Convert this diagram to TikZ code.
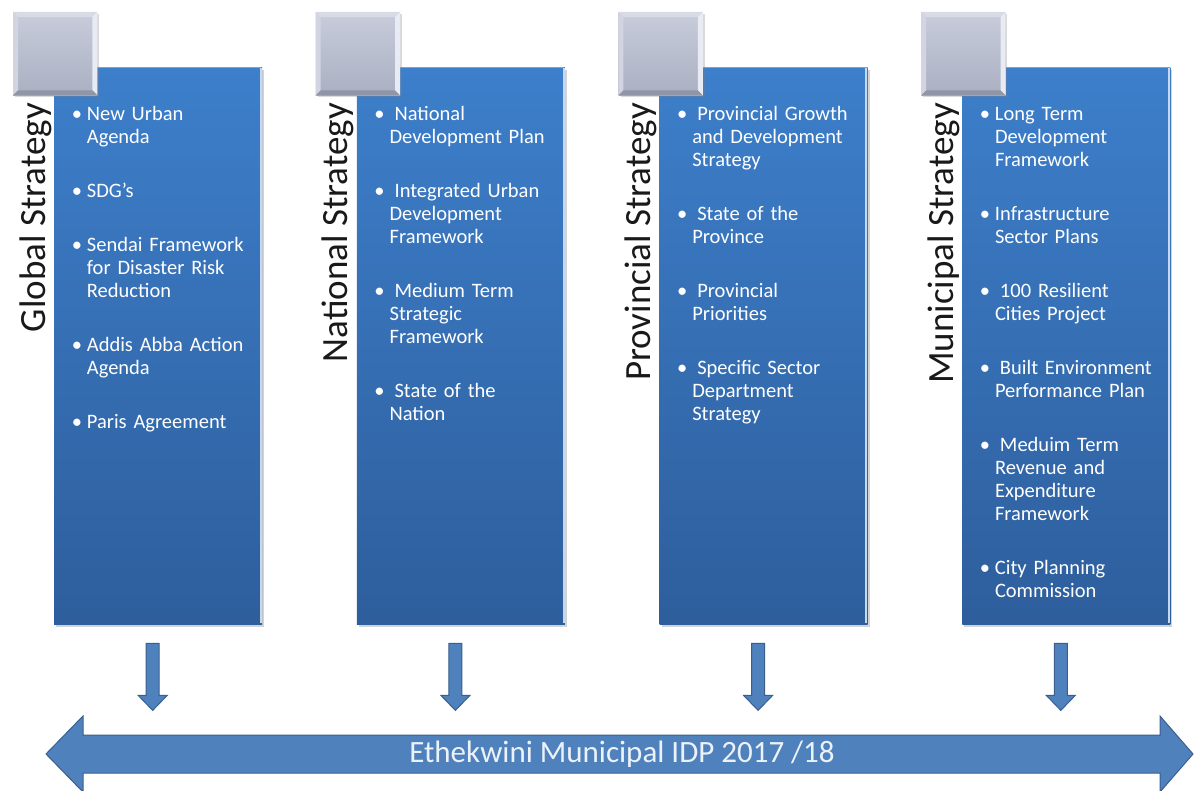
\documentclass[tikz,border=0pt]{standalone}
\usepackage{fontspec}
\setmainfont{Carlito}
\usetikzlibrary{calc,shadows}

\definecolor{boxtop}{RGB}{61,127,203}
\definecolor{boxbot}{RGB}{46,94,156}
\definecolor{sqtop}{RGB}{200,204,219}
\definecolor{sqbot}{RGB}{170,176,194}
\definecolor{bevlight}{RGB}{216,219,229}
\definecolor{bevwhite}{RGB}{232,235,243}
\definecolor{bevdark}{RGB}{145,150,166}
\definecolor{arrfill}{RGB}{79,129,189}
\definecolor{arredge}{RGB}{58,95,142}
\definecolor{idptext}{RGB}{236,242,250}

\tikzset{
  colbox/.style={draw=none, top color=boxtop, bottom color=boxbot,
    minimum width=208pt, minimum height=557pt, anchor=north west, inner sep=0pt,
    drop shadow={shadow xshift=2pt, shadow yshift=-3pt, opacity=0.35}},
  tile/.style={draw=none, top color=sqtop, bottom color=sqbot,
    minimum width=84pt, minimum height=83pt, anchor=north west, inner sep=0pt,
    drop shadow={shadow xshift=2pt, shadow yshift=-2pt, opacity=0.3}},
  sidelabel/.style={rotate=90, anchor=base east, inner sep=0pt,
    font=\fontsize{37pt}{40pt}\selectfont, text=black!90},
  itemtxt/.style={anchor=north west, inner sep=0pt, text width=200pt, align=left,
    font=\fontsize{20.5pt}{23pt}\selectfont, text=white},
  blockarrow/.style={fill=arrfill, draw=arredge, line width=1pt, line join=miter},
}

% bullet items with a hanging indent; the optional argument is a lead gap
\newcommand\bulletbox{\makebox[20pt][l]{\hspace{10pt}\makebox[0pt][c]{\textbullet}}}
\newcommand\firstitem[2][0pt]{\hangindent=20pt\hangafter=1\noindent
  \rule{0pt}{17pt}\bulletbox\hspace{#1}#2\par}
\newcommand\bitem[2][0pt]{\vspace{31pt}\hangindent=20pt\hangafter=1\noindent
  \bulletbox\hspace{#1}#2\par}

\begin{document}
\begin{tikzpicture}[x=1pt,y=-1pt]
\useasboundingbox (0,0) rectangle (1194,791);

% columns: blue panels, bevelled grey tiles and rotated titles
\foreach \i/\t in {0/Global Strategy,1/National Strategy,2/Provincial Strategy,3/Municipal Strategy}{
  \pgfmathsetmacro{\bx}{54+302.7*\i}
  \node[colbox] (box\i) at (\bx,67) {};
  \draw[white!70!boxtop, line width=2pt] ($(box\i.north east)+(-1.5,1)$) -- ($(box\i.south east)+(-1.5,-1)$);
  \draw[white!30!boxtop, line width=0.8pt] ($(box\i.north west)+(1,0.6)$) -- ($(box\i.north east)+(-1,0.6)$);
  \node[tile] (sq\i) at (\bx-41,12) {};
  \fill[bevlight] (sq\i.north west) -- (sq\i.north east) -- ++(-5,5) -- ($(sq\i.north west)+(5,5)$) -- cycle;
  \fill[bevlight!60!sqtop] (sq\i.north west) -- ($(sq\i.north west)+(5,5)$) -- ($(sq\i.south west)+(5,-5)$) -- (sq\i.south west) -- cycle;
  \fill[bevwhite] (sq\i.north east) -- (sq\i.south east) -- ++(-5,-5) -- ($(sq\i.north east)+(-5,5)$) -- cycle;
  \fill[bevdark] (sq\i.south west) -- ($(sq\i.south west)+(5,-5)$) -- ($(sq\i.south east)+(-5,-5)$) -- (sq\i.south east) -- cycle;
  \node[sidelabel] (lab\i) at (\bx-9,103) {\t};
}

% bullet lists
\node[itemtxt] (list0) at ($(box0.north west)+(12.7,36.5)$) {%
  \firstitem{New Urban\newline Agenda}
  \bitem{SDG’s}
  \bitem{Sendai Framework\newline for Disaster Risk\newline Reduction}
  \bitem{Addis Abba Action\newline Agenda}
  \bitem{Paris Agreement}};

\node[itemtxt] (list1) at ($(box1.north west)+(12.7,36.5)$) {%
  \firstitem[5pt]{National\newline Development Plan}
  \bitem[5pt]{Integrated Urban\newline Development\newline Framework}
  \bitem[5pt]{Medium Term\newline Strategic\newline Framework}
  \bitem[5pt]{State of the\newline Nation}};

\node[itemtxt] (list2) at ($(box2.north west)+(12.7,36.5)$) {%
  \firstitem[5pt]{Provincial Growth\newline and Development\newline Strategy}
  \bitem[5pt]{State of the\newline Province}
  \bitem[5pt]{Provincial\newline Priorities}
  \bitem[5pt]{Specific Sector\newline Department\newline Strategy}};

\node[itemtxt] (list3) at ($(box3.north west)+(12.7,36.5)$) {%
  \firstitem{Long Term\newline Development\newline Framework}
  \bitem{Infrastructure\newline Sector Plans}
  \bitem[5pt]{100 Resilient\newline Cities Project}
  \bitem[5pt]{Built Environment\newline Performance Plan}
  \bitem[5pt]{Meduim Term\newline Revenue and\newline Expenditure\newline Framework}
  \bitem{City Planning\newline Commission}};

% wide two-headed arrow carrying the IDP title
\coordinate (ltip) at (46,754);
\coordinate (rtip) at (1193,754);
\draw[blockarrow] (ltip) -- ++(37,-38) -- ++(0,19) -- ($(rtip)+(-33,-19)$) -- ++(0,-19)
  -- (rtip) -- ++(-33,38) -- ++(0,-19) -- ($(ltip)+(37,19)$) -- ++(0,19) -- cycle;
\node[inner sep=0pt, font=\fontsize{31pt}{34pt}\selectfont, text=idptext] (idp) at (622,754) {Ethekwini Municipal IDP 2017 /18};

% short arrows from each panel down to the IDP arrow
\foreach \i in {0,1,2,3}{
  \coordinate (a\i) at ($(box\i.south west)+(98.7,19)$);
  \draw[blockarrow] (a\i) ++(-6.5,0) -- ++(13,0) -- ++(0,52) -- ++(8,0) -- ++(-14.5,15)
    -- ++(-14.5,-15) -- ++(8,0) -- cycle;
}
\end{tikzpicture}
\end{document}
